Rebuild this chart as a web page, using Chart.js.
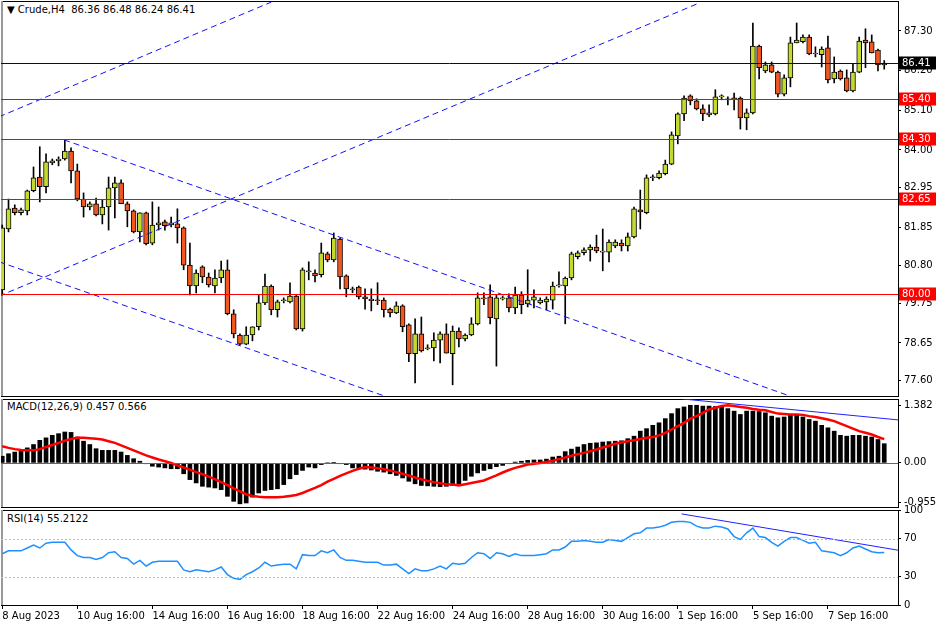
<!DOCTYPE html>
<html>
<head>
<meta charset="utf-8">
<script src="https://cdn.jsdelivr.net/npm/chart.js@4.4.0/dist/chart.umd.min.js"></script>
<style>
body { margin:0; background:#fff; width:936px; height:624px; overflow:hidden; position:relative; font-family:"DejaVu Sans", sans-serif; }
canvas { position:absolute; left:0; }
.ttl { position:absolute; left:5px; font-size:10px; color:#000; background:#fff; padding:0 2px; z-index:5; white-space:pre; }
</style>
</head>
<body>
<canvas id="main" width="936" height="397" style="top:0"></canvas>
<canvas id="macd" width="936" height="111" style="top:398px"></canvas>
<canvas id="rsi" width="936" height="124" style="top:500px"></canvas>
<div class="ttl" style="top:4px">▼ Crude,H4  86.36 86.48 86.24 86.41</div>
<div class="ttl" style="top:401px">MACD(12,26,9) 0.457 0.566</div>
<div class="ttl" style="top:513px">RSI(14) 55.2122</div>
<script>
// Crude H4 candles, 142 bars
const open = [80.12,81.81,82.39,82.26,82.31,82.87,83.25,82.98,83.64,83.70,
83.75,83.97,83.42,82.64,82.42,82.51,82.20,82.42,82.95,83.09,
82.51,82.31,81.73,82.26,81.42,81.92,82.01,81.92,81.95,81.84,
80.81,80.23,80.76,80.48,80.23,80.45,80.68,79.46,78.87,78.62,
78.87,79.10,79.76,80.23,79.57,79.82,79.79,79.95,79.04,80.65,
80.59,80.54,81.12,80.95,81.53,80.51,80.15,80.20,79.93,79.87,
79.84,79.84,79.59,79.48,79.68,79.15,78.35,78.90,78.49,78.51,
78.73,78.90,78.35,78.98,78.76,78.87,79.18,79.90,79.93,79.32,
79.87,79.90,79.62,79.98,79.73,79.84,79.76,79.79,79.84,80.23,
80.23,80.45,81.04,81.15,81.23,81.31,81.17,81.17,81.34,81.42,
81.34,81.59,82.34,82.26,83.23,83.23,83.34,83.61,84.39,85.00,
85.50,85.36,85.14,84.97,85.00,85.47,85.42,85.44,85.44,84.89,
85.03,86.88,86.19,86.36,86.16,85.55,86.00,86.97,87.00,87.13,
86.66,86.64,86.83,85.97,86.19,86.00,85.64,86.16,87.05,87.00,
86.77,86.36];
const high = [81.92,82.64,82.48,82.39,82.89,83.53,84.09,83.89,83.75,83.81,
84.28,84.06,83.61,82.81,82.56,82.67,82.62,83.25,83.25,83.17,
82.56,82.34,82.26,82.28,82.56,82.42,82.06,82.14,82.37,81.87,
81.42,80.68,80.79,80.59,80.68,80.92,80.95,79.57,78.90,79.10,
79.10,79.98,80.56,80.26,79.84,79.90,80.32,79.98,80.73,80.90,
80.68,81.42,81.17,81.70,81.56,80.54,80.20,80.23,80.15,80.15,
80.32,79.90,79.62,79.79,79.71,79.18,79.32,79.37,78.60,78.93,
78.96,79.18,79.12,79.07,78.90,79.35,80.04,80.04,80.26,79.98,
79.95,80.01,80.20,80.07,80.68,80.12,79.90,79.93,80.34,80.62,
80.48,81.17,81.20,81.29,81.37,81.64,81.81,81.51,81.51,81.51,
81.70,82.42,82.89,83.31,83.31,83.42,83.72,84.50,85.03,85.50,
85.53,85.42,85.25,85.25,85.67,85.53,85.47,85.58,85.47,85.14,
87.52,86.91,86.44,86.44,86.19,86.08,87.13,87.52,87.19,87.19,
86.86,86.86,87.16,86.58,86.22,86.22,86.39,87.13,87.36,87.19,
86.80,86.48];
const low = [79.98,81.73,82.20,82.20,82.20,82.84,82.56,82.81,83.59,83.56,
83.72,83.09,82.59,82.14,82.34,82.17,81.95,81.78,82.12,82.51,
81.87,81.70,81.45,81.37,81.37,81.78,81.78,81.87,81.42,80.68,
79.98,80.04,80.32,80.20,80.04,80.32,79.43,78.79,78.60,78.60,
78.71,79.01,79.71,79.43,79.37,79.76,79.76,79.01,78.98,80.40,
80.34,80.48,80.90,80.90,80.15,79.93,80.04,79.87,79.59,79.54,
79.71,79.37,79.37,79.46,78.96,78.13,77.54,78.40,78.46,78.15,
78.10,78.37,77.49,78.54,78.71,78.85,79.15,79.71,79.18,78.01,
79.84,79.51,79.46,79.46,79.65,79.62,79.73,79.57,79.59,80.20,
79.18,80.40,80.98,81.09,80.92,81.15,80.65,80.90,81.29,81.20,
81.20,81.56,81.81,82.23,83.15,83.20,83.31,83.59,84.17,84.81,
85.25,85.11,84.81,84.92,84.97,85.39,85.25,85.11,84.58,84.56,
85.00,85.97,86.14,86.14,85.47,85.50,85.75,86.97,86.97,86.64,
86.58,86.30,85.86,85.86,85.94,85.61,85.61,86.14,86.28,86.69,
86.19,86.24];
const close = [81.84,82.37,82.26,82.34,82.87,83.23,82.98,83.67,83.70,83.75,
83.97,83.42,82.64,82.42,82.51,82.20,82.42,82.95,83.09,82.51,
82.31,81.73,82.26,81.40,81.92,81.98,81.90,81.98,81.84,80.81,
80.23,80.59,80.48,80.26,80.45,80.68,79.46,78.90,78.62,78.87,
79.10,79.76,80.23,79.57,79.79,79.84,79.95,79.04,80.68,80.62,
80.51,81.15,80.95,81.56,80.48,80.15,80.12,79.93,79.87,79.82,
79.82,79.57,79.48,79.68,79.10,78.35,78.90,78.43,78.51,78.73,
78.90,78.37,78.98,78.76,78.87,79.18,79.90,79.87,79.35,79.90,
79.90,79.62,79.98,79.71,79.84,79.93,79.84,79.87,80.23,80.26,
80.45,81.12,81.15,81.23,81.31,81.20,81.17,81.45,81.45,81.34,
81.59,82.37,82.28,83.23,83.25,83.36,83.61,84.42,85.00,85.44,
85.36,85.14,85.00,85.03,85.47,85.50,85.39,85.42,84.89,85.03,
86.88,86.28,86.36,86.16,85.55,86.00,86.97,87.05,87.13,86.66,
86.66,86.80,85.94,86.16,85.97,85.64,86.16,87.02,86.97,86.69,
86.36,86.41];

const macdHist = [0.16,0.22,0.26,0.28,0.36,0.44,0.54,0.60,0.66,0.70,
0.74,0.73,0.62,0.52,0.44,0.34,0.30,0.30,0.30,0.26,
0.18,0.10,0.04,-0.02,-0.08,-0.10,-0.12,-0.14,-0.14,-0.26,
-0.40,-0.48,-0.56,-0.58,-0.60,-0.64,-0.80,-0.92,-0.98,-0.96,
-0.82,-0.72,-0.66,-0.64,-0.62,-0.52,-0.38,-0.28,-0.18,-0.10,
-0.12,-0.04,0.00,0.01,-0.02,-0.04,-0.12,-0.14,-0.15,-0.17,
-0.20,-0.22,-0.26,-0.30,-0.36,-0.44,-0.50,-0.54,-0.55,-0.56,
-0.57,-0.56,-0.54,-0.50,-0.42,-0.32,-0.24,-0.18,-0.14,-0.09,
-0.06,-0.02,0.02,0.04,0.06,0.07,0.07,0.09,0.14,0.16,
0.27,0.33,0.38,0.44,0.47,0.48,0.50,0.51,0.52,0.53,
0.58,0.64,0.76,0.82,0.90,0.96,1.06,1.18,1.30,1.34,
1.38,1.38,1.36,1.36,1.35,1.34,1.30,1.24,1.16,1.24,
1.24,1.23,1.20,1.12,1.08,1.10,1.16,1.16,1.10,1.04,
1.00,0.90,0.84,0.76,0.66,0.64,0.66,0.66,0.64,0.62,
0.56,0.46];
const macdSignal = [0.40,0.36,0.33,0.31,0.30,0.30,0.33,0.38,0.43,0.48,
0.53,0.57,0.60,0.60,0.59,0.58,0.56,0.52,0.48,0.42,
0.36,0.30,0.24,0.18,0.13,0.08,0.04,0.00,-0.06,-0.11,
-0.16,-0.22,-0.27,-0.33,-0.39,-0.46,-0.53,-0.61,-0.68,-0.75,
-0.79,-0.81,-0.82,-0.82,-0.82,-0.81,-0.79,-0.77,-0.72,-0.66,
-0.60,-0.53,-0.45,-0.38,-0.31,-0.25,-0.19,-0.14,-0.10,-0.11,
-0.13,-0.15,-0.18,-0.22,-0.26,-0.30,-0.35,-0.39,-0.43,-0.46,
-0.49,-0.51,-0.52,-0.54,-0.51,-0.48,-0.45,-0.42,-0.36,-0.30,
-0.23,-0.17,-0.12,-0.08,-0.04,-0.02,0.00,0.02,0.05,0.09,
0.13,0.17,0.21,0.24,0.28,0.32,0.37,0.41,0.46,0.49,
0.52,0.54,0.57,0.60,0.62,0.66,0.72,0.80,0.88,0.96,
1.06,1.12,1.20,1.28,1.32,1.36,1.38,1.36,1.34,1.32,
1.29,1.27,1.26,1.22,1.18,1.17,1.16,1.16,1.15,1.12,
1.10,1.07,1.04,1.00,0.94,0.88,0.82,0.76,0.72,0.68,
0.62,0.57];
const rsi = [54,57,57,57,60,63,60,65,66,66,
66,58,52,50,50,48,50,55,56,50,
49,43,47,41,45,46,46,46,46,37,
35,37,36,35,37,40,32,28,27,32,
35,39,45,41,42,43,43,38,53,52,
52,57,55,58,50,47,47,46,45,45,
45,42,42,43,38,33,38,36,36,38,
41,38,44,43,44,50,55,54,49,55,
54,51,54,52,52,52,53,54,58,58,
61,67,67,68,67,66,66,69,68,67,
71,75,76,81,81,82,84,87,88,88,
87,83,81,81,83,82,80,72,69,76,
81,72,71,66,62,67,71,71,68,65,
66,57,56,55,52,55,60,62,59,56,
55,55.2];

const priceTicks = [87.30, 86.20, 85.10, 84.00, 82.95, 81.85, 80.80, 79.75, 78.65, 77.60];
const macdTicks = [1.382, 0, -0.955];
const rsiTicks = [100, 70, 30, 0];
const dateIdx = [0, 12, 24, 36, 48, 60, 72, 84, 96, 108, 120, 132];
const dateLabels = ['8 Aug 2023','10 Aug 16:00','14 Aug 16:00','16 Aug 16:00','18 Aug 16:00','22 Aug 16:00',
  '24 Aug 16:00','28 Aug 16:00','30 Aug 16:00','1 Sep 16:00','5 Sep 16:00','7 Sep 16:00'];

// horizontal levels: red supports/resistances and the current price
const redLevels = [85.40, 84.30, 82.65, 80.00];
const lastPrice = 86.41;

// channel lines, [bar, price] endpoints
const channelA = [[-0.5, 84.92], [43.0, 88.10]];
const channelB = [[-0.5, 79.95], [111.5, 88.08]];
const channelC = [[9.9, 84.28], [125.9, 77.18]];
const channelD = [[-0.5, 80.90], [61.1, 77.18]];
const macdTrend = [[108.8, 1.53], [143.2, 1.03]];
const rsiTrend = [[108.6, 95.9], [143.2, 57.7]];

const BULL = '#c5da2f';
const BEAR = '#f2571e';
const FONT = { family: 'DejaVu Sans', size: 10 };
Chart.defaults.font = FONT;
Chart.defaults.color = '#000';

const idx = open.map((_, i) => i);
const pts = p => p.map(q => ({ x: q[0], y: q[1] }));

const frame = {
  id: 'frame',
  beforeDatasetsDraw(chart) {
    const a = chart.chartArea, c = chart.ctx;
    c.save();
    c.strokeStyle = '#000';
    c.lineWidth = 1;
    c.strokeRect(a.left + 0.5, a.top + 0.5, a.right - a.left, a.bottom - a.top);
    c.strokeStyle = '#999';
    c.lineWidth = 2;
    c.beginPath(); c.moveTo(a.left + 1, a.top); c.lineTo(a.left + 1, a.bottom); c.stroke();
    c.restore();
  }
};

const levels = {
  id: 'levels',
  afterDatasetsDraw(chart, args, opts) {
    const a = chart.chartArea, c = chart.ctx, s = chart.scales.y;
    (opts.items || []).forEach(it => {
      const y = Math.round(s.getPixelForValue(it.value)) + 0.5;
      c.save();
      c.strokeStyle = it.color;
      c.lineWidth = 1;
      c.setLineDash(it.dash || []);
      c.beginPath(); c.moveTo(a.left, y); c.lineTo(a.right, y); c.stroke();
      if (it.box) {
        c.setLineDash([]);
        c.fillStyle = it.box;
        c.fillRect(a.right + 1, y - 7, 37, 13);
        c.fillStyle = '#fff';
        c.font = '10px DejaVu Sans';
        c.textBaseline = 'middle';
        c.fillText(it.value.toFixed(2), a.right + 4, y);
      }
      c.restore();
    });
  }
};

const xScale = (show) => {
  const s = {
    type: 'linear', min: -0.2, max: 143.2, display: show, offset: false,
    afterBuildTicks: s => { s.ticks = dateIdx.map(v => ({ value: v })); },
    ticks: { callback: v => dateLabels[dateIdx.indexOf(v)], align: 'start', maxRotation: 0, autoSkip: false, padding: 1 },
    grid: { drawOnChartArea: false, drawTicks: true, tickLength: 4, color: '#000', offset: false },
    border: { color: '#000' }
  };
  if (show) s.afterFit = sc => { sc.height = 19; };
  return s;
};

const yScale = (min, max, ticks, fmt) => ({
  position: 'right', min: min, max: max,
  afterBuildTicks: s => { s.ticks = ticks.map(v => ({ value: v })); },
  afterFit: s => { s.width = 38; s.paddingTop = 0; s.paddingBottom = 0; },
  ticks: { callback: fmt, padding: 3 },
  grid: { drawOnChartArea: false, drawTicks: true, tickLength: 3, color: '#000' },
  border: { color: '#000' }
});

const lineDs = (p, color, dash, w) => ({
  type: 'line', data: pts(p), borderColor: color, borderWidth: w || 1, borderDash: dash || [],
  pointRadius: 0, fill: false, order: 0
});

const baseOpts = {
  responsive: false, animation: false, events: [],
  plugins: { legend: { display: false }, tooltip: { enabled: false } }
};

new Chart('main', {
  type: 'bar',
  data: {
    datasets: [
      lineDs(channelA, '#1010ff', [6, 4]),
      lineDs(channelB, '#1010ff', [6, 4]),
      lineDs(channelC, '#1010ff', [6, 4]),
      lineDs(channelD, '#1010ff', [6, 4]),
      { data: idx.map(i => ({ x: i, y: [low[i], high[i]] })), backgroundColor: '#000', barThickness: 1, grouped: false, order: 2 },
      { data: idx.map(i => ({ x: i, y: [open[i], close[i]] })),
        backgroundColor: idx.map(i => close[i] >= open[i] ? BULL : BEAR),
        borderColor: '#000', borderWidth: 1, borderSkipped: false, barThickness: 5, minBarLength: 1, grouped: false, order: 1 }
    ]
  },
  options: Object.assign({}, baseOpts, {
    layout: { padding: { top: 1, bottom: 1, left: 1, right: 0 } },
    scales: { x: xScale(false), y: yScale(77.18, 88.13, priceTicks, v => v.toFixed(2)) },
    plugins: Object.assign({}, baseOpts.plugins, {
      levels: { items: redLevels.map(v => ({ value: v, color: '#ff0000', box: '#ff0000' }))
        .concat([{ value: lastPrice, color: '#000080', box: '#000' }]) }
    })
  }),
  plugins: [frame, levels]
});

new Chart('macd', {
  type: 'bar',
  data: {
    datasets: [
      lineDs(macdSignal.map((v, i) => [i, v]), '#ff0000', [], 2.5),
      lineDs(macdTrend, '#2020ff', [], 1),
      { data: idx.map(i => ({ x: i, y: macdHist[i] })), backgroundColor: '#000', barThickness: 4, order: 1 }
    ]
  },
  options: Object.assign({}, baseOpts, {
    layout: { padding: { top: 1, bottom: 2, left: 1, right: 0 } },
    scales: { x: xScale(false), y: yScale(-1.056, 1.53, macdTicks, v => v === 0 ? '0.00' : v.toFixed(3)) },
    plugins: Object.assign({}, baseOpts.plugins, { levels: { items: [{ value: 0, color: '#666' }] } })
  }),
  plugins: [frame, levels]
});

new Chart('rsi', {
  type: 'line',
  data: {
    datasets: [
      lineDs(rsi.map((v, i) => [i, v]), '#1e90ff', [], 1.5),
      lineDs(rsiTrend, '#2020ff', [], 1)
    ]
  },
  options: Object.assign({}, baseOpts, {
    layout: { padding: { top: 10, bottom: 0, left: 1, right: 0 } },
    scales: { x: xScale(true), y: yScale(0, 100, rsiTicks, v => String(v)) },
    plugins: Object.assign({}, baseOpts.plugins, {
      levels: { items: [{ value: 70, color: '#bbb', dash: [2, 2] }, { value: 30, color: '#bbb', dash: [2, 2] }] }
    })
  }),
  plugins: [frame, levels]
});
</script>
</body>
</html>
